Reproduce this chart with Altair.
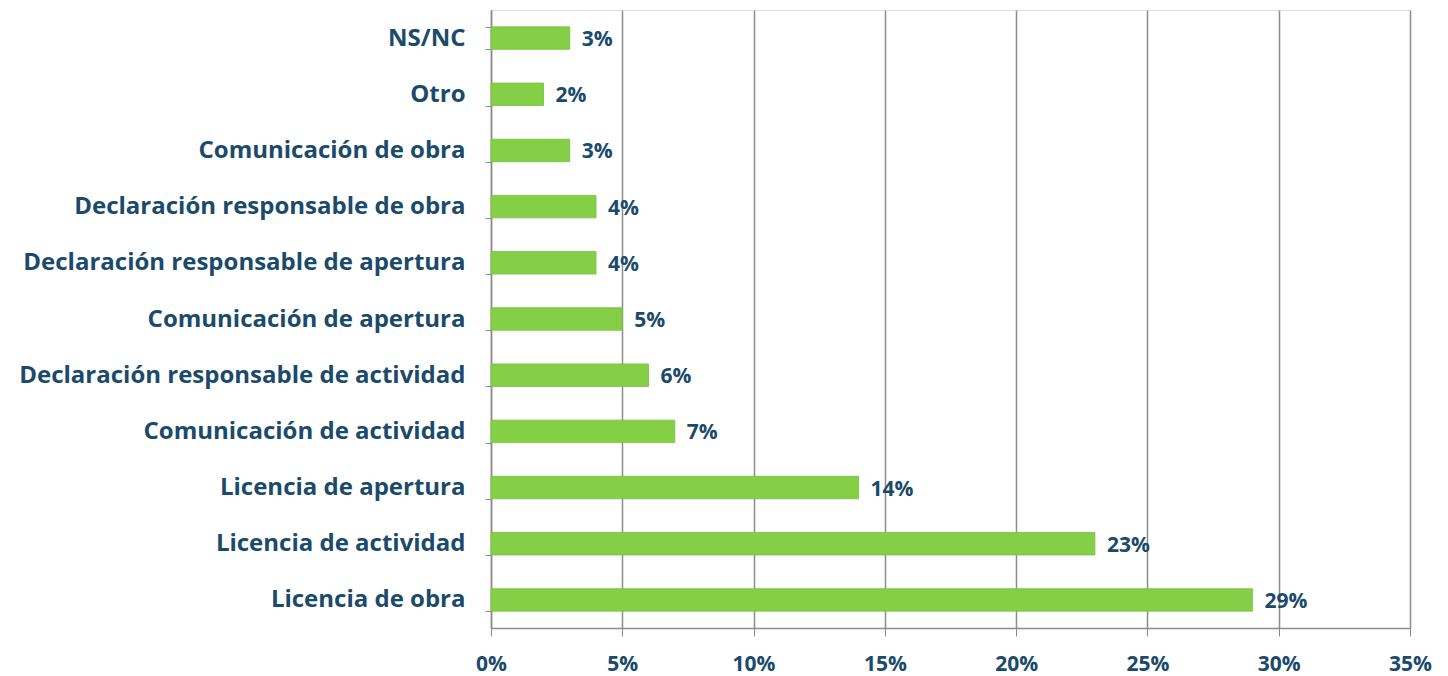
import altair as alt
import pandas as pd

categories = [
    "NS/NC",
    "Otro",
    "Comunicación de obra",
    "Declaración responsable de obra",
    "Declaración responsable de apertura",
    "Comunicación de apertura",
    "Declaración responsable de actividad",
    "Comunicación de actividad",
    "Licencia de apertura",
    "Licencia de actividad",
    "Licencia de obra",
]
values = [3, 2, 3, 4, 4, 5, 6, 7, 14, 23, 29]
x_ticks = [0, 5, 10, 15, 20, 25, 30, 35]

df = pd.DataFrame({"cat": categories, "val": values})
df["lab"] = df["val"].astype(str) + "%"

FONT = "Open Sans"
FS = 21
TXT = "#1b4a6b"
GRID = "#8c8c8c"

y_enc = alt.Y(
    "cat:N",
    sort=categories,
    scale=alt.Scale(paddingInner=0.6, paddingOuter=0.3),
    axis=alt.Axis(
        title=None,
        labelFont=FONT,
        labelFontSize=24,
        labelFontWeight="bold",
        labelColor=TXT,
        labelPadding=20,
        tickBand="extent",
        tickSize=6,
        tickColor=GRID,
        domainColor=GRID,
        domainWidth=1.5,
        grid=False,
        labelLimit=600,
    ),
)

x_enc = alt.X(
    "val:Q",
    scale=alt.Scale(domain=[0, 35], nice=False),
    axis=alt.Axis(
        title=None,
        values=x_ticks,
        labelExpr="datum.value + '%'",
        labelFont=FONT,
        labelFontSize=FS,
        labelFontWeight="bold",
        labelColor=TXT,
        labelPadding=17,
        labelFlush=False,
        tickSize=8,
        tickColor=GRID,
        domainColor=GRID,
        domainWidth=1.5,
        grid=True,
        gridColor=GRID,
        gridWidth=1.5,
    ),
)

bars = alt.Chart(df).mark_bar(color="#84cf46", stroke="#78bf40", strokeWidth=0.8).encode(
    x=x_enc, y=y_enc
)

text = alt.Chart(df).mark_text(
    align="left", baseline="middle", dx=12, dy=2,
    font=FONT, fontSize=FS, fontWeight="bold", color=TXT,
).encode(
    x=alt.X("val:Q"), y=alt.Y("cat:N", sort=categories), text="lab:N"
)

chart = (
    alt.layer(bars, text)
    .properties(
        width=919,
        height=618,
        autosize=alt.AutoSizeParams(type="none"),
        padding={"left": 483, "top": 2, "right": 30, "bottom": 48},
    )
    .configure_view(stroke=None)
    .configure(background="white")
)

chart.save("out.html", embed_options={"renderer": "svg", "actions": False})
